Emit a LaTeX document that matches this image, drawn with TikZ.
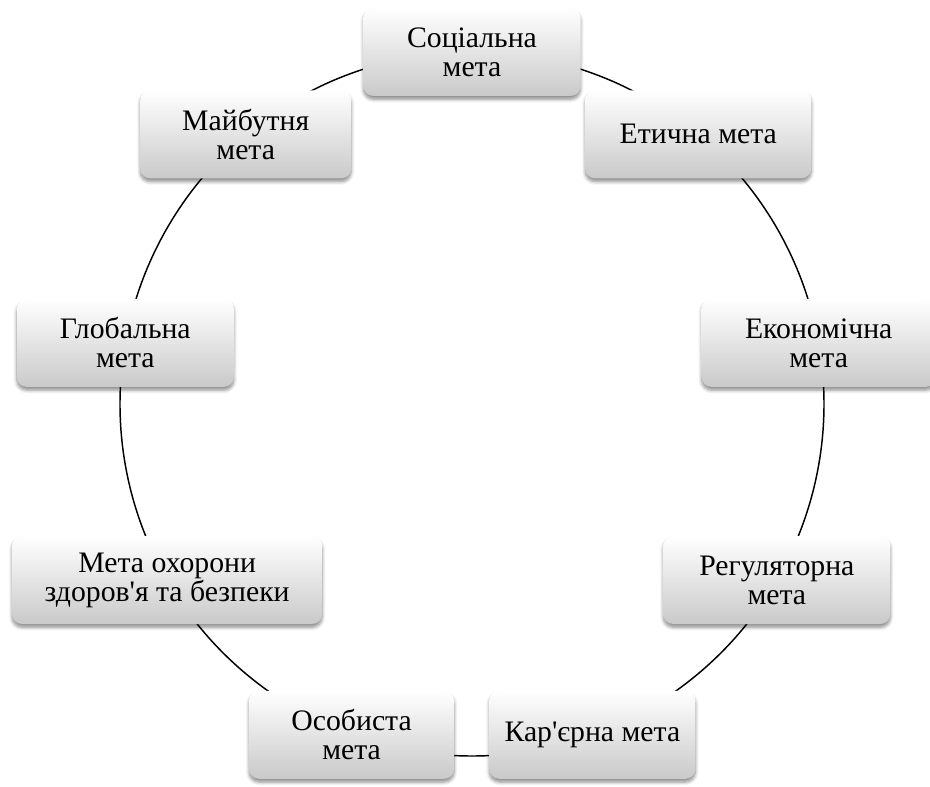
\documentclass[tikz,border=0pt]{standalone}
\usepackage{fontspec}
\setmainfont{Liberation Serif}
\newfontfamily\apofont{Liberation Serif}[Ligatures=ResetAll]
\newcommand{\apo}{{\apofont'}}
\usetikzlibrary{backgrounds,shadows.blur}
\begin{document}
\begin{tikzpicture}[x=0.75pt,y=0.75pt,
  goal/.style={rounded corners=7.5pt, minimum height=66pt, inner sep=2pt,
    top color=white, bottom color=black!21, draw=none,
    blur shadow={shadow xshift=0pt, shadow yshift=-2.5pt, shadow blur radius=2.5pt, shadow blur steps=6, shadow opacity=45},
    align=center, text=black, font=\rmfamily\fontsize{22.3}{21.8}\selectfont},
  conn/.style={draw=black, line width=1.1pt}]
\useasboundingbox (-472,-382) rectangle (458,404);
\node[goal, minimum width=162.75pt] (soc) at (90:352) {Соціальна\\мета};
\node[goal, minimum width=169.5pt] (eth) at (50:352) {Етична мета};
\node[goal, minimum width=175.5pt] (eco) at (10:352) {Економічна\\мета};
\node[goal, minimum width=170.25pt] (reg) at (-30:352) {Регуляторна\\мета};
\node[goal, minimum width=154.5pt] (car) at (-70:352) {Кар\apo єрна мета};
\node[goal, minimum width=153.75pt] (oso) at (-110:352) {Особиста\\мета};
\node[goal, minimum width=232.5pt] (hlt) at (-150:352) {Мета охорони\\здоров\apo я та безпеки};
\node[goal, minimum width=162.75pt] (glo) at (170:352) {Глобальна\\мета};
\node[goal, minimum width=158.25pt] (fut) at (130:352) {Майбутня\\мета};
\begin{pgfonlayer}{background}
\draw[conn] (soc.center) arc[start angle=90, end angle=50, radius=264pt];
\draw[conn] (eth.center) arc[start angle=50, end angle=10, radius=264pt];
\draw[conn] (eco.center) arc[start angle=10, end angle=-30, radius=264pt];
\draw[conn] (reg.center) arc[start angle=-30, end angle=-70, radius=264pt];
\draw[conn] (car.center) arc[start angle=-70, end angle=-110, radius=264pt];
\draw[conn] (oso.center) arc[start angle=-110, end angle=-150, radius=264pt];
\draw[conn] (hlt.center) arc[start angle=-150, end angle=-190, radius=264pt];
\draw[conn] (glo.center) arc[start angle=170, end angle=130, radius=264pt];
\draw[conn] (fut.center) arc[start angle=130, end angle=90, radius=264pt];
\end{pgfonlayer}
\end{tikzpicture}
\end{document}
